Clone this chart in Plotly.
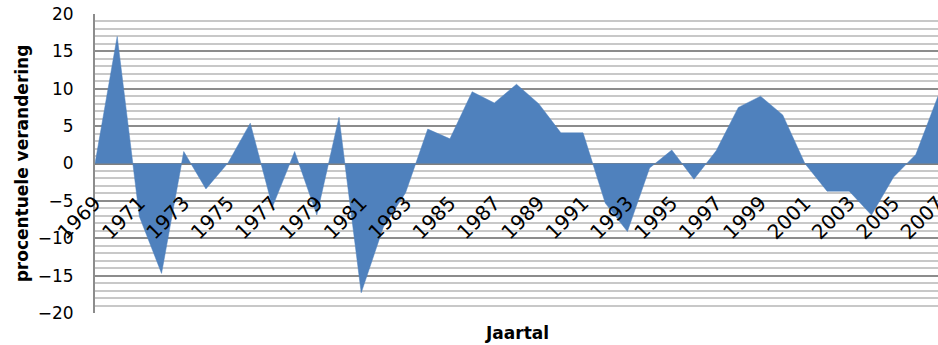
import plotly.graph_objects as go

years = list(range(1969, 2008))
values = [0.0, 17.0, -7.1, -14.7, 1.6, -3.4, 0.1, 5.4, -5.8, 1.6,
          -6.9, 6.2, -17.3, -8.5, -3.9, 4.6, 3.3, 9.6, 8.1, 10.6,
          8.0, 4.1, 4.1, -5.3, -9.1, -0.6, 1.8, -2.1, 1.7, 7.5,
          9.0, 6.5, 0.0, -3.7, -3.7, -6.9, -1.8, 1.2, 9.0]
tick_years = years[::2]
tick_labels = [str(y) for y in tick_years]
y_ticks = list(range(-20, 21, 5))

FONT = "DejaVu Sans"

fig = go.Figure()
fig.add_trace(go.Scatter(
    x=years, y=values, mode="lines", fill="tozeroy",
    fillcolor="#4F81BD", line=dict(color="#4F81BD", width=0.5),
    hoverinfo="x+y", showlegend=False,
))

fig.update_layout(
    width=938, height=345,
    margin=dict(l=95, r=0, t=14, b=32),
    paper_bgcolor="white", plot_bgcolor="white",
    font=dict(family=FONT, color="black"),
    xaxis=dict(
        range=[1968.9999, 2007.0001],
        tickmode="array", tickvals=tick_years, ticktext=tick_labels,
        tickangle=-45, tickfont=dict(family=FONT, size=20, color="black"),
        showgrid=False, zeroline=False, showline=False,
        anchor="free", position=0.5, automargin=False,
        ticks="", ticklabelstandoff=23, ticklabeloverflow="allow",
    ),
    yaxis=dict(
        range=[-20, 20], automargin=False,
        tickmode="array", tickvals=y_ticks,
        tickfont=dict(family=FONT, size=17, color="black"),
        showgrid=True, gridcolor="#8c8c8c", gridwidth=2,
        minor=dict(dtick=1, showgrid=True, gridcolor="#c8c8c8", gridwidth=2),
        zeroline=True, zerolinecolor="#808080", zerolinewidth=2,
        showline=True, linecolor="#8c8c8c", linewidth=2,
        ticks="", ticklabelstandoff=16,
        title=dict(text="<b>procentuele verandering</b>",
                   font=dict(family=FONT, size=17, color="black"), standoff=5),
    ),
    annotations=[dict(
        text="<b>Jaartal</b>", xref="paper", yref="paper",
        x=0.5, y=-0.067, xanchor="center", yanchor="middle", showarrow=False,
        font=dict(family=FONT, size=17, color="black"),
    )],
)

fig.write_html("out.html")
